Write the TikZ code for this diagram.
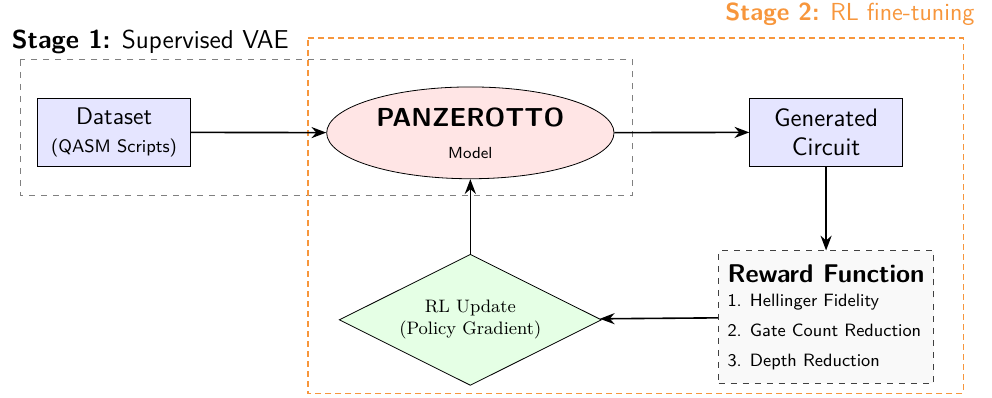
\documentclass[tikz,border=0pt]{standalone}
\usepackage{tikz}
\usetikzlibrary{shapes.geometric, arrows.meta}
\definecolor{stageorange}{RGB}{247,150,60}

\begin{document}
\begin{tikzpicture}[font=\sffamily]
	\tikzset{block/.style={draw, rectangle, fill=blue!10, minimum width=2.68cm, minimum height=1.18cm, align=center}}
	\tikzset{edge/.style={-{Stealth[length=2.6mm]}, thick}}
	\tikzset{title/.style={inner sep=0pt}}
	\tikzset{frame/.style={draw=stageorange, thick, dash pattern=on 3pt off 2pt}}
	\useasboundingbox (0,0) rectangle (17.4,-6.98);
	
	% stage frames
	\draw[gray, dashed] (0.35,-1.05) rectangle (11.1,-3.42);
	\draw[frame] (5.4,-0.67) -- (16.9,-0.67) -- (16.9,-6.9) -- (5.4,-6.9) -- cycle;
	\node(stage1) at (0.2,-0.95) [title, anchor=south west, font=\sffamily\fontsize{12.9}{15}\selectfont] {\textbf{Stage 1:} Supervised VAE};
	\node(stage2) at (17.1,-0.45) [title, anchor=south east, text=stageorange, font=\sffamily\fontsize{12.3}{15}\selectfont] {\textbf{Stage 2:} RL fine-tuning};
	
	\node(data) at (2.0,-2.32) [block] {{\large Dataset}\\[2pt] {\small (QASM Scripts)}};
	\node(model) at (8.25,-2.33) [draw, ellipse, fill=red!10, minimum width=5.04cm, minimum height=1.61cm, inner sep=1pt, align=center] {{\fontsize{13}{15}\selectfont\textbf{PANZEROTTO}}\\[4pt] {\footnotesize Model}};
	\node(circuit) at (14.49,-2.32) [block, font=\sffamily\fontsize{12.6}{14.5}\selectfont] {Generated\\Circuit};
	
	\node(reward) at (14.49,-5.56) [draw=black!75, dashed, fill=gray!5, minimum width=3.77cm, minimum height=2.32cm, inner sep=4pt, align=left, font=\sffamily\fontsize{8.9}{11}\selectfont] {{\fontsize{12.8}{15}\selectfont\textbf{Reward Function}}\\[1pt] 1. Hellinger Fidelity\\[4pt] 2. Gate Count Reduction\\[4pt] 3. Depth Reduction};
	\node(update) at (8.25,-5.61) [draw, diamond, shape aspect=2, fill=green!10, minimum width=4.6cm, minimum height=2.3cm, inner sep=0pt, align=center, font=\rmfamily\small] {RL Update\\(Policy Gradient)};
	
	\draw[edge](data) -- (model);
	\draw[edge](model) -- (circuit);
	\draw[edge](circuit) -- (reward);
	\draw[edge](reward) -- (update);
	\draw[edge](update) -- (model);
	
\end{tikzpicture}
\end{document}
